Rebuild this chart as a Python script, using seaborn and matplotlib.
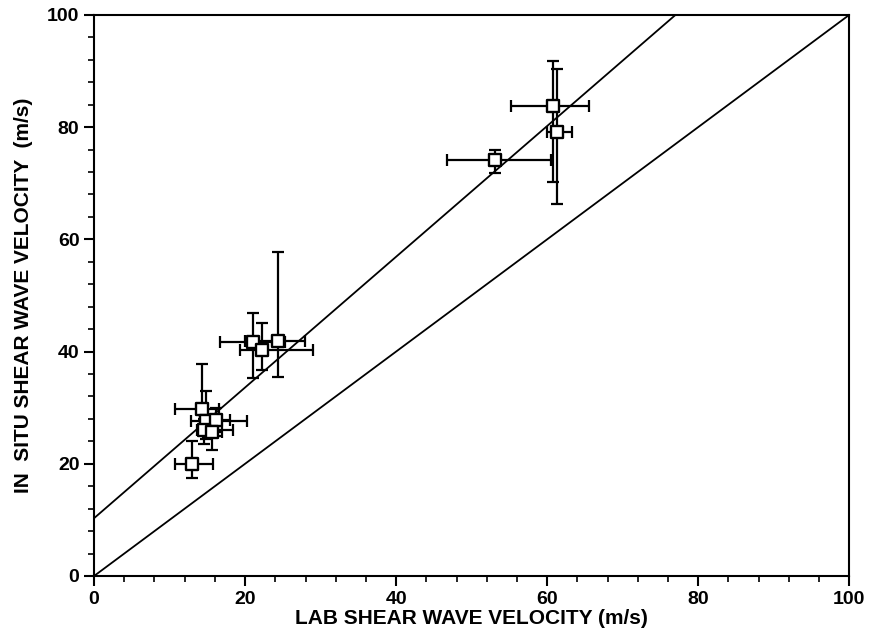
import numpy as np
import pandas as pd
import seaborn as sns
import matplotlib.pyplot as plt
from matplotlib.ticker import MultipleLocator

# lab vs in situ shear wave velocity (m/s)
lab_v = [13.0, 14.3, 14.8, 16.2, 14.6, 15.6, 21.0, 22.3, 24.3, 53.1, 60.8, 61.3]
insitu_v = [20.0, 29.7, 27.6, 27.8, 26.0, 25.6, 41.7, 40.3, 41.9, 74.2, 83.7, 79.2]

# error bar ends
lab_lo = [10.7, 10.7, 12.9, 14.0, 13.6, 14.4, 16.7, 19.3, 20.0, 46.7, 55.2, 60.0]
lab_hi = [15.7, 16.5, 20.2, 18.0, 18.4, 17.0, 25.3, 29.0, 27.9, 60.5, 65.6, 63.3]
insitu_lo = [17.5, 26.0, 24.5, 25.0, 23.5, 22.5, 35.2, 36.7, 35.5, 71.8, 70.2, 66.3]
insitu_hi = [24.1, 37.7, 32.9, 30.0, 28.0, 28.0, 46.8, 45.0, 57.8, 75.9, 91.8, 90.4]

# fitted line and 1:1 line (intercept, slope)
fit_line = (10.3, 1.165)
one_to_one = (0.0, 1.0)

df = pd.DataFrame({"lab": lab_v, "insitu": insitu_v})

sns.set_style("ticks")
plt.rcParams['font.family'] = ['Liberation Sans', 'DejaVu Sans']

fig = plt.figure(figsize=(8.71, 6.34), dpi=100)
ax = fig.add_axes([0.108, 0.0915, 0.867, 0.885])

xline = np.array([0.0, 100.0])
for b, m in (fit_line, one_to_one):
    sns.lineplot(x=xline, y=b + m * xline, ax=ax, color="black", linewidth=1.3)

xerr = [np.array(lab_v) - np.array(lab_lo), np.array(lab_hi) - np.array(lab_v)]
yerr = [np.array(insitu_v) - np.array(insitu_lo), np.array(insitu_hi) - np.array(insitu_v)]
ax.errorbar(lab_v, insitu_v, xerr=xerr, yerr=yerr, fmt="none",
            ecolor="black", elinewidth=1.6, capsize=4, capthick=1.6, zorder=3)
sns.scatterplot(data=df, x="lab", y="insitu", ax=ax, marker="s", s=75,
                facecolor="white", edgecolor="black", linewidth=1.7, zorder=4)

ax.set_xlim(0, 100)
ax.set_ylim(0, 100)
ax.xaxis.set_major_locator(MultipleLocator(20))
ax.yaxis.set_major_locator(MultipleLocator(20))
ax.xaxis.set_minor_locator(MultipleLocator(4))
ax.yaxis.set_minor_locator(MultipleLocator(4))
ax.tick_params(which="major", length=7, width=1.5, labelsize=14, colors="black")
ax.tick_params(which="minor", length=4, width=1.2, colors="black")
for lbl in ax.get_xticklabels() + ax.get_yticklabels():
    lbl.set_fontweight("bold")
for sp in ax.spines.values():
    sp.set_linewidth(1.5)
    sp.set_color("black")

ax.set_xlabel("LAB SHEAR WAVE VELOCITY (m/s)", fontsize=15, fontweight="bold",
              color="black", labelpad=1)
ax.set_ylabel("IN  SITU SHEAR WAVE VELOCITY  (m/s)", fontsize=15, fontweight="bold",
              color="black", labelpad=10)

fig.savefig("out.png", dpi=100)
